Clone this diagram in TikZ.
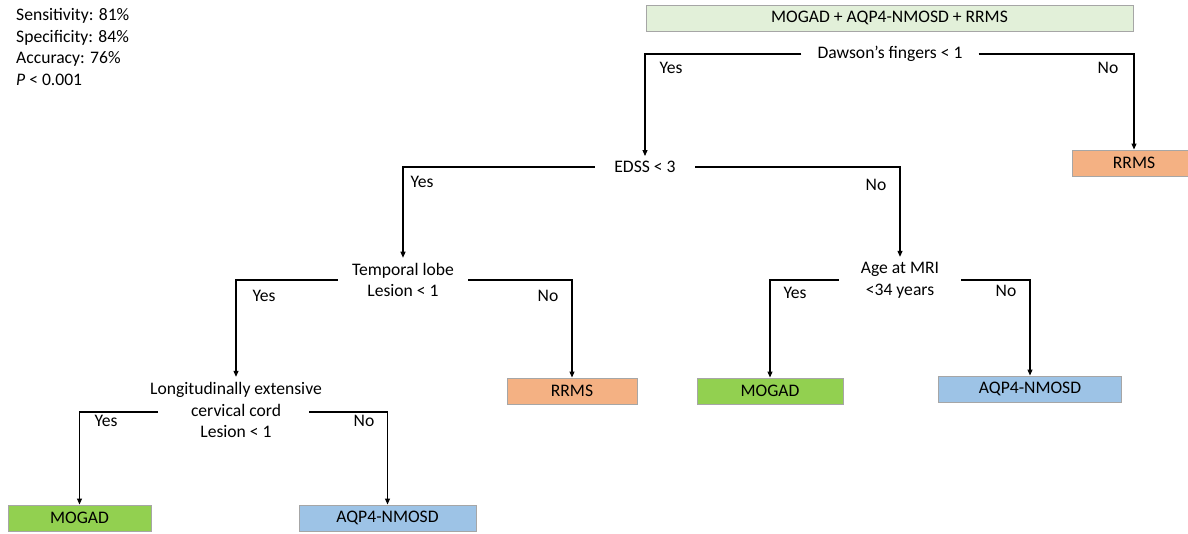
\documentclass[tikz,border=0pt]{standalone}
\usepackage{fontspec}
\setmainfont{Carlito}
\usetikzlibrary{arrows.meta}
\definecolor{lgreen}{HTML}{E2F0D9}
\definecolor{mgreen}{HTML}{92D050}
\definecolor{lorange}{HTML}{F4B183}
\definecolor{lblue}{HTML}{9DC3E6}
\definecolor{bordergray}{HTML}{A6A6A6}
\tikzset{
  txt/.style={font=\fontsize{17.6}{21.8}\selectfont},
  cond/.style={txt, align=center, inner xsep=0pt, inner ysep=5pt},
  leaf/.style={txt, draw=bordergray, line width=1pt, minimum height=26pt, inner sep=0pt},
  lbl/.style={txt, inner sep=0pt},
  conn/.style={line width=1.1pt, -{Triangle[length=6pt,width=5pt]}},
}
\begin{document}
\begin{tikzpicture}[x=1pt,y=-1pt]
\useasboundingbox (0,0) rectangle (1188,533);
% stats
\node[lbl, anchor=north west, align=left] (stats) at (16,8)
  {Sensitivity: 81\%\\Specificity: 84\%\\Accuracy: 76\%\\\textit{P} < 0.001};
% top
\node[leaf, fill=lgreen, minimum width=487pt] (all) at (889.5,18) {MOGAD + AQP4-NMOSD + RRMS};
% conditions
\node[cond, minimum width=177pt] (daw) at (890,54) {Dawson’s fingers < 1};
\node[cond, minimum width=100pt] (edss) at (645,167) {EDSS < 3};
\node[cond, minimum width=130pt] (temp) at (403,280) {Temporal lobe\\Lesion < 1};
\node[cond, minimum width=122pt] (age) at (900,280) {Age at MRI\\<34 years};
\node[cond] (lon) at (236,410) {Longitudinally extensive\\cervical cord\\Lesion < 1};
% leaves
\node[leaf, fill=lorange, minimum width=124pt] (rr1) at (1134,163) {RRMS};
\node[leaf, fill=lorange, minimum width=130pt] (rr2) at (572,391) {RRMS};
\node[leaf, fill=mgreen, minimum width=146pt] (mo1) at (770,391) {MOGAD};
\node[leaf, fill=lblue, minimum width=183pt] (aq1) at (1030,389) {AQP4-NMOSD};
\node[leaf, fill=mgreen, minimum width=143pt] (mo2) at (79.5,518) {MOGAD};
\node[leaf, fill=lblue, minimum width=177pt] (aq2) at (387.5,518) {AQP4-NMOSD};
% connectors
\draw[conn] (daw.west) -| (edss.north);
\draw[conn] (daw.east) -| (rr1.north);
\draw[conn] (edss.west) -| (temp.north);
\draw[conn] (edss.east) -| (age.north);
\draw[conn] (temp.west) -| (lon.north);
\draw[conn] (temp.east) -| (rr2.north);
\draw[conn] (age.west) -| (mo1.north);
\draw[conn] (age.east) -| (aq1.north);
\draw[conn] ([xshift=-78pt,yshift=-2pt]lon.center) -| (mo2.north);
\draw[conn] ([xshift=73pt,yshift=-2pt]lon.center) -| (aq2.north);
% labels
\node[lbl] (y1) at (671,68) {Yes};
\node[lbl] (n1) at (1108,68) {No};
\node[lbl] (y2) at (422,182) {Yes};
\node[lbl] (n2) at (876,185) {No};
\node[lbl] (y3) at (264,296) {Yes};
\node[lbl] (n3) at (548,296) {No};
\node[lbl] (y4) at (795,293) {Yes};
\node[lbl] (n4) at (1006,291) {No};
\node[lbl] (y5) at (106,421) {Yes};
\node[lbl] (n5) at (364,421) {No};
\end{tikzpicture}
\end{document}
